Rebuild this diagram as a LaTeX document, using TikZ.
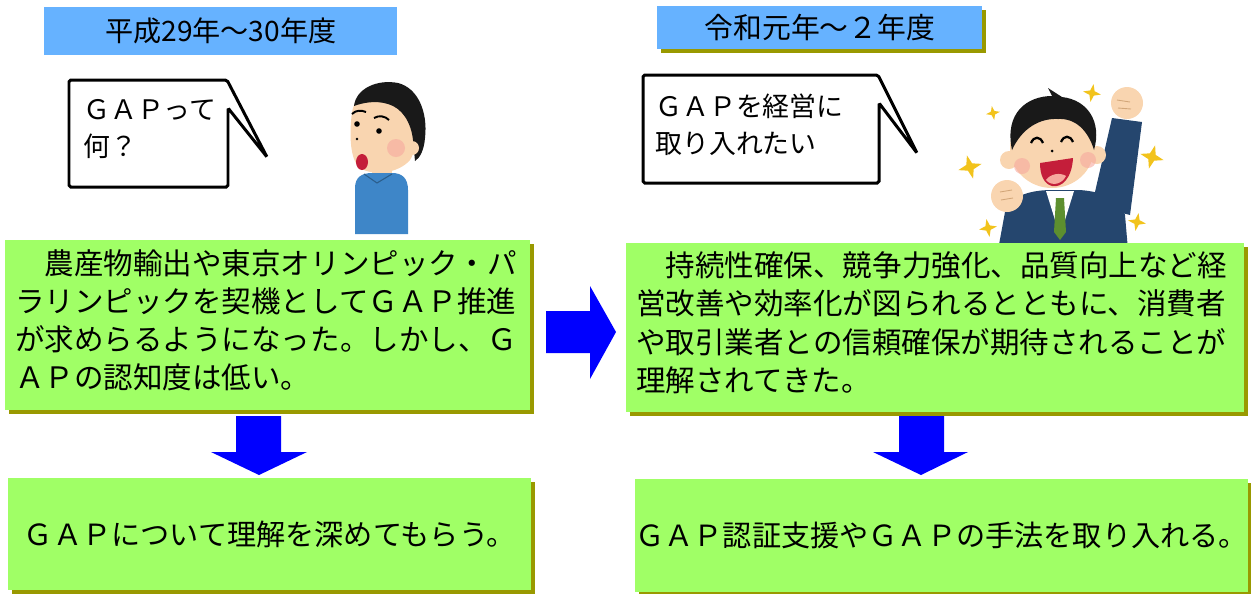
\documentclass[tikz,border=0pt]{standalone}
\usepackage{fontspec}
\setmainfont{Noto Sans CJK JP}
\usetikzlibrary{shadows}

\definecolor{headblue}{HTML}{66B2FF}
\definecolor{boxgreen}{HTML}{A0FF66}
\definecolor{olivebar}{HTML}{999900}
\definecolor{skin}{HTML}{F9D5B0}
\definecolor{shirtblue}{HTML}{3E86C8}
\definecolor{suitnavy}{HTML}{25466E}
\definecolor{tiegreen}{HTML}{5D8F2F}
\definecolor{mouthred}{HTML}{C41E3A}
\definecolor{cheekpink}{HTML}{F6A99E}
\definecolor{stargold}{HTML}{F2C31C}

\newcommand{\lastdepth}{\rule[-0.25cm]{0pt}{0pt}}

\tikzset{
  yearbox/.style={fill=headblue, inner sep=0pt, anchor=north west},
  oliveshadow/.style={drop shadow={shadow xshift=0.08cm, shadow yshift=-0.08cm, fill=olivebar, opacity=1}},
  mainbox/.style={fill=boxgreen, inner xsep=0.2cm, inner ysep=0pt, anchor=north west, align=left,
    font=\fontsize{16.8}{21.8}\selectfont},
  endbox/.style={fill=boxgreen, inner sep=0pt, anchor=north west, font=\fontsize{16.6}{20}\selectfont},
  bubble/.style={draw=black, fill=white, line width=1.7pt, rounded corners=1pt},
  bubbletext/.style={inner sep=0pt, anchor=west, align=left, font=\fontsize{15.3}{21}\selectfont},
  blockarrow/.style={fill=blue},
  hair/.style={fill=black!90},
}

\begin{document}
\begin{tikzpicture}[x=0.02cm, y=-0.02cm]
            \useasboundingbox (0,0) rectangle (1251,593);

            \node[yearbox, minimum width=7.06cm, minimum height=0.96cm, font=\fontsize{16}{18}\selectfont]
                (yearold) at (44,7) {平成29年～30年度};
            \node[yearbox, oliveshadow, minimum width=6.5cm, minimum height=0.86cm, font=\fontsize{16.4}{18}\selectfont]
                (yearnew) at (657,6) {令和元年～２年度};

            \draw[bubble] (228,108) -- (228,187) -- (69,187) -- (69,80) -- (227,80) -- (267,157) -- cycle;
            \node[bubbletext] (askgap) at (83,129) {ＧＡＰって\\何？};
            \draw[bubble] (879,103) -- (879,183) -- (643,183) -- (643,75) -- (878,75) -- (917,153) -- cycle;
            \node[bubbletext] (wantgap) at (655,125) {ＧＡＰを経営に\\取り入れたい};

            \fill[skin] (372,158) rectangle (392,178);
            \fill[shirtblue] (355,234) -- (355,188) .. controls (355,177) and (362,173) .. (372,173) -- (392,173)
                .. controls (402,173) and (408,178) .. (408,190) -- (408,234) -- cycle;
            \draw[shirtblue!70!black, line width=0.6pt] (364,174) -- (377,183) -- (392,174);
            \fill[skin] (352,112) .. controls (349,135) and (350,160) .. (360,168) .. controls (372,176) and (398,174) .. (410,160)
                .. controls (420,145) and (420,105) .. (400,90) .. controls (380,78) and (356,90) .. (352,112) -- cycle;
            \fill[hair] (354,106) .. controls (356,88) and (378,79) .. (398,83) .. controls (418,88) and (428,112) .. (425,138)
                .. controls (424,150) and (420,158) .. (415,161) -- (413,140) .. controls (411,122) and (402,108) .. (388,104)
                .. controls (375,100) and (362,103) .. (354,106) -- cycle;
            \fill[skin] (412,148) circle (7);
            \fill[cheekpink, opacity=0.6] (396,148) circle (9);
            \draw[line width=1.1pt] (352,114) .. controls (356,110) and (361,110) .. (366,112);
            \draw[line width=1.1pt] (374,118) .. controls (379,115) and (385,116) .. (389,120);
            \fill (357,124) circle (2.8);
            \fill (379,131) circle (2.8);
            \fill (357,139) circle (1.3);
            \fill[mouthred] (362,162) ellipse [x radius=6, y radius=8];

            \foreach \sx/\sy/\ss/\sr in {993/113/7/10, 1092/93/9/-10, 970/167/12/15, 1152/157/12/-15, 988/228/9/10, 1137/222/9/-10} {
                \fill[stargold, shift={(\sx,\sy)}, rotate=\sr, scale=\ss]
                    (0,-1) -- (0.25,-0.25) -- (1,0) -- (0.25,0.25) -- (0,1) -- (-0.25,0.25) -- (-1,0) -- (-0.25,-0.25) -- cycle;
            }
            \fill[suitnavy] (1092,205) -- (1112,118) -- (1142,122) -- (1130,215) -- cycle;
            \fill[suitnavy] (998,250) -- (1005,212) .. controls (1010,196) and (1030,190) .. (1052,190) -- (1080,190)
                .. controls (1105,192) and (1122,200) .. (1125,215) -- (1128,250) -- cycle;
            \fill[white] (1046,191) -- (1074,191) -- (1060,236) -- cycle;
            \fill[tiegreen] (1056,198) -- (1064,198) -- (1066,232) -- (1060,240) -- (1054,232) -- cycle;
            \fill[skin] (1127,103) circle (16);
            \fill[skin] (1007,196) circle (16);
            \draw[brown!70, line width=0.5pt] (1117,100) -- (1130,102) (1118,108) -- (1131,109);
            \draw[brown!70, line width=0.5pt] (1000,192) -- (1012,190) (1001,200) -- (1013,198);
            \fill[skin] (1009,160) circle (9);
            \fill[skin] (1097,155) circle (9);
            \fill[skin] (1052,148) ellipse [x radius=42, y radius=40];
            \fill[hair] (1012,150) .. controls (1004,112) and (1028,96) .. (1052,96) -- (1048,88) -- (1062,97)
                .. controls (1088,100) and (1102,122) .. (1094,150) .. controls (1088,130) and (1075,118) .. (1058,119)
                .. controls (1040,118) and (1022,128) .. (1012,150) -- cycle;
            \fill[cheekpink, opacity=0.6] (1022,166) circle (8);
            \fill[cheekpink, opacity=0.6] (1088,160) circle (8);
            \draw[line width=1.3pt] (1031,143) .. controls (1034,136) and (1040,136) .. (1043,143);
            \draw[line width=1.3pt] (1061,142) .. controls (1064,135) and (1070,135) .. (1073,142);
            \fill (1052,151) circle (1.5);
            \fill[mouthred] (1040,163) -- (1073,158) .. controls (1072,178) and (1062,188) .. (1052,186)
                .. controls (1044,184) and (1040,175) .. (1040,163) -- cycle;
            \fill[cheekpink] (1046,180) .. controls (1050,174) and (1060,172) .. (1066,176) .. controls (1062,184) and (1052,187) .. (1046,180) -- cycle;

            \node[mainbox, oliveshadow, minimum width=10.5cm, minimum height=3.4cm, text width=10.1cm]
                (oldbox) at (5,240) {　農産物輸出や東京オリンピック・パ\\ラリンピックを契機としてＧＡＰ推進\\が求めらるようになった。しかし、Ｇ\\ＡＰの認知度は低い。\lastdepth};
            \node[mainbox, oliveshadow, minimum width=12.36cm, minimum height=3.38cm, text width=11.96cm]
                (newbox) at (626,243) {　持続性確保、競争力強化、品質向上など経\\営改善や効率化が図られるとともに、消費者\\や取引業者との信頼確保が期待されることが\\理解されてきた。\lastdepth};
            \node[endbox, oliveshadow, minimum width=10.46cm, minimum height=2.24cm]
                (oldgoal) at (8,478) {ＧＡＰについて理解を深めてもらう。};
            \node[endbox, oliveshadow, minimum width=12.2cm, minimum height=2.26cm]
                (newgoal) at (635,479) {ＧＡＰ認証支援やＧＡＰの手法を取り入れる。};

            \fill[blockarrow] (546,311) -- (590,311) -- (590,286) -- (616,332) -- (590,379) -- (590,353) -- (546,353) -- cycle;
            \fill[blockarrow] (236,416) -- (281,416) -- (281,452) -- (307,452) -- (259,475) -- (211,452) -- (236,452) -- cycle;
            \fill[blockarrow] (899,416) -- (944,416) -- (944,452) -- (968,452) -- (921,475) -- (873,452) -- (899,452) -- cycle;
        \end{tikzpicture}
\end{document}
